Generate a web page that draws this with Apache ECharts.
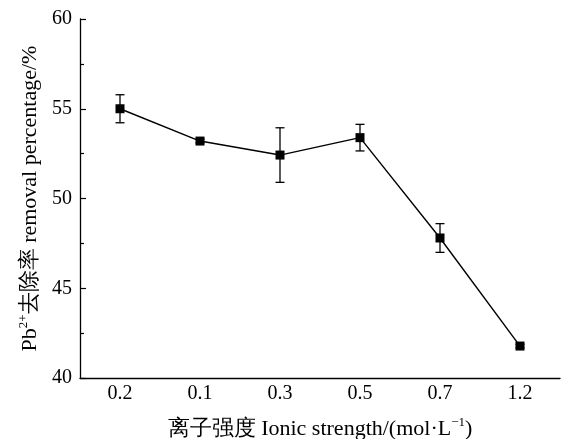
<!DOCTYPE html>
<html><head><meta charset="utf-8">
<script src="https://cdn.jsdelivr.net/npm/echarts@6/dist/echarts.min.js"></script>
<style>html,body{margin:0;padding:0;background:#fff}#c{width:562px;height:439px}</style>
</head><body><div id="c"></div>
<script>
var categories = ['0.2', '0.1', '0.3', '0.5', '0.7', '1.2'];
var removal = [55.0, 53.2, 52.42, 53.39, 47.8, 41.78];
var errors = [0.78, 0.1, 1.52, 0.74, 0.8, 0.1];
var yTicks = {min: 40, max: 60, interval: 5};

var font = 'Liberation Serif, Times New Roman, serif';
var richStyles = {
  n: {fontSize: 22, fontFamily: font, color: '#000', lineHeight: 26, verticalAlign: 'bottom'},
  sup: {fontSize: 13, fontFamily: font, color: '#000', lineHeight: 13, verticalAlign: 'top', padding: [2, 0, 0, 0]}
};
var chart = echarts.init(document.getElementById('c'));
var errData = categories.map(function (c, i) { return [i, removal[i] - errors[i], removal[i] + errors[i]]; });
chart.setOption({
  animation: false,
  backgroundColor: '#fff',
  grid: {left: 80, right: 2, top: 19, bottom: 61, outerBoundsMode: 'none', containLabel: false},
  xAxis: [{
    type: 'category', data: categories, boundaryGap: true, position: 'bottom',
    axisLine: {lineStyle: {color: '#000', width: 1.3}},
    axisTick: {alignWithLabel: true, inside: true, length: 6, lineStyle: {color: '#000', width: 1.2}},
    axisLabel: {color: '#000', fontFamily: font, fontSize: 20, margin: 6},
    name: '{n|离子强度 Ionic strength/(mol·L}{sup|−1}{n|)}', nameLocation: 'middle', nameGap: 36,
    nameTextStyle: {color: '#000', fontFamily: font, fontSize: 22, rich: richStyles},
    splitLine: {show: false}
  }, {
    type: 'category', data: categories, boundaryGap: true, position: 'bottom',
    axisLine: {show: false},
    axisTick: {inside: true, length: 4, lineStyle: {color: '#000', width: 1.2}},
    axisLabel: {show: false}, splitLine: {show: false}
  }],
  yAxis: {
    type: 'value', min: yTicks.min, max: yTicks.max, interval: yTicks.interval,
    axisLine: {show: true, lineStyle: {color: '#000', width: 1.3}},
    axisTick: {show: true, inside: true, length: 6, lineStyle: {color: '#000', width: 1.2}},
    minorTick: {show: true, splitNumber: 2, length: 4, lineStyle: {color: '#000', width: 1.2}},
    axisLabel: {color: '#000', fontFamily: font, fontSize: 20, margin: 8},
    splitLine: {show: false},
    name: '{n|Pb}{sup|2+}{n|去除率 removal percentage/%}', nameLocation: 'middle', nameRotate: 90, nameGap: 33,
    nameTextStyle: {color: '#000', fontFamily: font, fontSize: 22, rich: richStyles}
  },
  series: [{
    type: 'line', data: removal, xAxisIndex: 0,
    symbol: 'rect', symbolSize: 9,
    lineStyle: {color: '#000', width: 1.4},
    itemStyle: {color: '#000'}, z: 3
  }, {
    type: 'custom', xAxisIndex: 0, data: errData, z: 2,
    renderItem: function (params, api) {
      var x = api.value(0);
      var lo = api.coord([x, api.value(1)]);
      var hi = api.coord([x, api.value(2)]);
      var w = 4.5;
      var st = {stroke: '#000', lineWidth: 1.3};
      return {type: 'group', children: [
        {type: 'line', shape: {x1: lo[0], y1: lo[1], x2: hi[0], y2: hi[1]}, style: st},
        {type: 'line', shape: {x1: lo[0] - w, y1: lo[1], x2: lo[0] + w, y2: lo[1]}, style: st},
        {type: 'line', shape: {x1: hi[0] - w, y1: hi[1], x2: hi[0] + w, y2: hi[1]}, style: st}
      ]};
    }
  }]
});
</script></body></html>
